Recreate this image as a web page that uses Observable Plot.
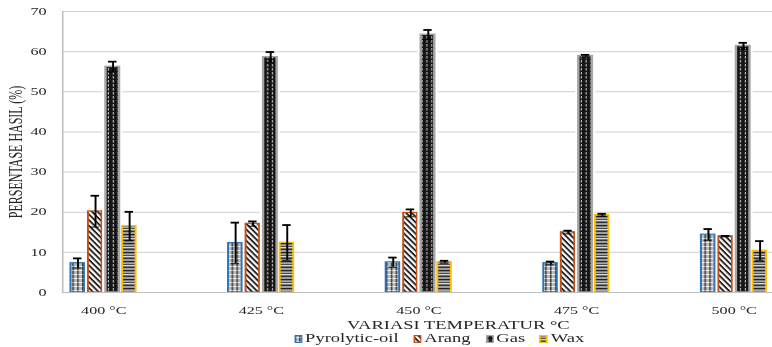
<!DOCTYPE html>
<html><head><meta charset="utf-8">
<script src="https://cdn.jsdelivr.net/npm/d3@7"></script>
<script src="https://cdn.jsdelivr.net/npm/@observablehq/plot@0.6"></script>
<style>
html,body{margin:0;padding:0;background:#fff;}
#wrap{position:relative;width:480px;height:347px;transform:scaleX(1.60833);transform-origin:0 0;font-family:"Liberation Serif","Times New Roman",serif;color:#262626;}
#xtitle{position:absolute;left:0;width:570px;top:319px;text-align:center;font-size:11.5px;line-height:13px;white-space:nowrap;}
#legend{position:absolute;left:0;width:546px;top:332px;display:flex;justify-content:center;font-size:11.5px;line-height:13px;white-space:nowrap;}
.item{display:flex;align-items:center;margin:0 4.5px;}
.item svg{margin-right:1.5px;display:block;}
</style></head>
<body>
<div id="wrap">
<svg width="0" height="0" style="position:absolute;left:0;top:0">
  <defs>
    <pattern id="pPyro" patternUnits="userSpaceOnUse" width="3" height="4">
      <rect width="3" height="4" fill="#bdbdbd"/>
      <rect x="0" y="0" width="0.9" height="4" fill="#333"/>
      <rect x="0" y="2" width="3" height="0.8" fill="#ffffff"/>
      <rect x="0" y="2" width="0.9" height="0.8" fill="#777"/>
    </pattern>
    <pattern id="pArang" patternUnits="userSpaceOnUse" width="3" height="3" patternTransform="rotate(58)">
      <rect width="3" height="3" fill="#ffffff"/>
      <rect x="0" y="0" width="3" height="1.4" fill="#222"/>
    </pattern>
    <pattern id="pGas" patternUnits="userSpaceOnUse" width="3" height="4">
      <rect width="3" height="4" fill="#161616"/>
      <rect x="1.1" y="0" width="0.7" height="2.6" fill="#bdbdbd"/>
    </pattern>
    <pattern id="pWax" patternUnits="userSpaceOnUse" width="4" height="9">
      <rect width="4" height="9" fill="#999"/>
      <rect x="0" y="0" width="4" height="1.5" fill="#222"/>
      <rect x="0" y="1.5" width="4" height="1.5" fill="#a8a8a8"/>
      <rect x="0" y="3" width="4" height="1" fill="#4a4a4a"/>
      <rect x="0" y="4" width="4" height="1.5" fill="#d8d8d8"/>
      <rect x="0" y="5.5" width="4" height="1.5" fill="#333"/>
      <rect x="0" y="7" width="4" height="2" fill="#a0a0a0"/>
    </pattern>
  </defs>
</svg>
<div id="chart"></div>
<div id="xtitle"></div>
<div id="legend"></div>
</div>
<script>
// ---- data ----
const temps = ["400 °C", "425 °C", "450 °C", "475 °C", "500 °C"];
const seriesNames = ["Pyrolytic-oil", "Arang", "Gas", "Wax"];
const pyro     = [7.3, 12.3, 7.5, 7.3, 14.4];
const pyroErr  = [1.2, 5.1, 1.2, 0.4, 1.4];
const arang    = [20.2, 17.1, 19.8, 15.0, 14.0];
const arangErr = [3.9, 0.6, 0.9, 0.4, 0.1];
const gas      = [56.2, 58.6, 64.2, 58.9, 61.4];
const gasErr   = [1.3, 1.3, 1.2, 0.3, 0.8];
const wax      = [16.5, 12.4, 7.6, 19.3, 10.4];
const waxErr   = [3.6, 4.4, 0.3, 0.3, 2.4];
const yTicks   = [0, 10, 20, 30, 40, 50, 60, 70];
const yTitle = "PERSENTASE HASIL (%)";
const xTitle = "VARIASI TEMPERATUR °C";

// ---- styles ----
const styles = [
  {fill: "url(#pPyro)",  stroke: "#2e75b6", left: -20.5},
  {fill: "url(#pArang)", stroke: "#c4501a", left: -9.6},
  {fill: "url(#pGas)",   stroke: "#a6a6a6", left: 1.3},
  {fill: "url(#pWax)",   stroke: "#ffc000", left: 11.6}
];
const values = [pyro, arang, gas, wax];
const errors = [pyroErr, arangErr, gasErr, waxErr];
const BAND = 98.56, W = 9.0, CAP = 2.9;

const marks = [
  Plot.gridY(yTicks, {stroke: "#cfcfcf", strokeOpacity: 1, strokeWidth: 1}),
];
seriesNames.forEach((name, k) => {
  const st = styles[k];
  const rows = temps.map((t, i) => ({t, v: values[k][i], e: errors[k][i], s: name}));
  const mid = st.left + W / 2;
  if (name === "Gas") {
    marks.push(Plot.barY(rows, {x: "t", y: "v", fill: "white", stroke: "white", strokeWidth: 4,
      insetLeft: BAND / 2 + st.left, insetRight: BAND / 2 - st.left - W}));
  }
  marks.push(Plot.barY(rows, {x: "t", y: "v", fill: st.fill, stroke: st.stroke,
    strokeWidth: name === "Gas" ? 1.5 : 1.2,
    insetLeft: BAND / 2 + st.left, insetRight: BAND / 2 - st.left - W}));
  marks.push(Plot.ruleX(rows, {x: "t", y1: d => d.v - d.e, y2: d => d.v + d.e, dx: mid,
    stroke: "#000", strokeWidth: 1.2}));
  marks.push(Plot.tickY(rows, {x: "t", y: d => d.v + d.e, stroke: "#000", strokeWidth: 1.8,
    insetLeft: BAND / 2 + mid - CAP, insetRight: BAND / 2 - mid - CAP}));
  marks.push(Plot.tickY(rows, {x: "t", y: d => d.v - d.e, stroke: "#000", strokeWidth: 1.4, strokeOpacity: 0.7,
    insetLeft: BAND / 2 + mid - CAP, insetRight: BAND / 2 - mid - CAP}));
});
marks.push(Plot.ruleY([0], {stroke: "#bfbfbf", strokeWidth: 1}));
marks.push(Plot.frame({anchor: "left", stroke: "#bfbfbf", strokeWidth: 1}));
marks.push(Plot.axisY({ticks: yTicks, tickSize: 0, tickPadding: 10, label: null, fontSize: 10, fill: "#262626"}));
marks.push(Plot.axisY({ticks: [], tickSize: 0, label: yTitle, labelAnchor: "center", labelArrow: "none", labelOffset: 34, fontSize: 12, fill: "#262626"}));
marks.push(Plot.axisX({tickSize: 0, tickPadding: 14, label: null, fontSize: 10, fill: "#262626"}));

const chart = Plot.plot({
  width: 480,
  height: 318,
  marginLeft: 38.5,
  marginRight: 0,
  marginTop: 11,
  marginBottom: 26,
  style: {fontFamily: "'Liberation Serif', 'Times New Roman', serif", background: "transparent", color: "#262626"},
  x: {type: "band", domain: temps, range: [13.5, 506.3], padding: 0},
  y: {domain: [0, 70]},
  marks
});
document.getElementById("chart").appendChild(chart);
document.getElementById("xtitle").textContent = xTitle;

const legend = d3.select("#legend");
seriesNames.forEach((name, k) => {
  const it = legend.append("div").attr("class", "item");
  const sv = it.append("svg").attr("width", 5.5).attr("height", 8);
  sv.append("rect").attr("x", 0.6).attr("y", 0.6).attr("width", 4.3).attr("height", 6.8)
    .attr("fill", styles[k].fill).attr("stroke", styles[k].stroke).attr("stroke-width", 1.2);
  it.append("span").text(name);
});
</script>
</body></html>
